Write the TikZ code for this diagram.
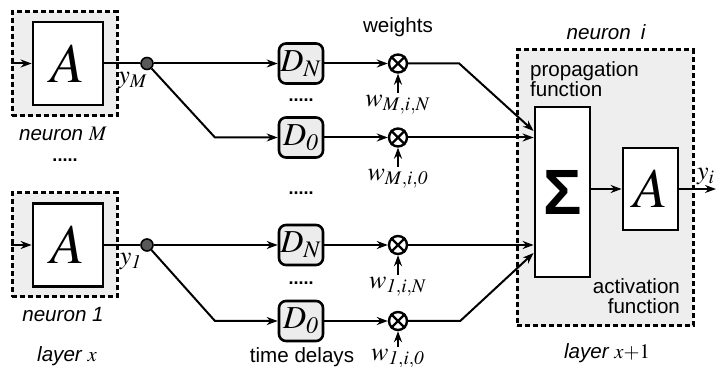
\documentclass[tikz,border=0pt]{standalone}
\usepackage{mathptmx}
\usepackage[no-math]{fontspec}
\setmainfont{Liberation Sans}
\usetikzlibrary{arrows.meta,calc}

\begin{document}
\begin{tikzpicture}[x=0.5pt,y=-0.5pt,
  lbl/.style={font=\fontsize{10.3}{10}\selectfont},
  ilbl/.style={font=\fontsize{10.3}{10}\selectfont\itshape},
  mlbl/.style={font=\fontsize{13}{14}\selectfont},
  layerbox/.style={draw,line width=1.5pt,dash pattern=on 2.6pt off 1.4pt,fill=gray!13,inner sep=0pt},
  actbox/.style={draw,line width=1.4pt,fill=white,inner sep=0pt,minimum width=35pt,minimum height=41.5pt,font=\fontsize{28}{30}\selectfont},
  delay/.style={draw,line width=1.3pt,rounded corners=3.5pt,fill=gray!15,minimum width=22pt,minimum height=20pt,inner sep=0pt,font=\fontsize{16}{18}\selectfont},
  mult/.style={draw,circle,line width=1.2pt,fill=white,minimum size=9pt,inner sep=0pt},
  knot/.style={circle,draw,line width=0.8pt,fill=black!65,minimum size=6pt,inner sep=0pt},
  con/.style={line width=1pt},
  arr/.style={con,-{Stealth[length=5.5pt,width=4pt]}},
  dots/.style={font=\fontsize{9}{9}\selectfont\bfseries}
]
\useasboundingbox (0,0) rectangle (717,367);

% layer x: neuron M and neuron 1
\node[layerbox,minimum width=52.5pt,minimum height=52pt] (neurM) at (64.5,64) {};
\node[actbox] (AM) at (68,63.5) {$A$};
\node[layerbox,minimum width=52.5pt,minimum height=52pt] (neur1) at (64.5,245) {};
\node[actbox] (A1) at (68,245) {$A$};
\draw[arr] (neurM.west |- AM.west) -- (AM.west);
\draw[arr] (neur1.west |- A1.west) -- (A1.west);
\node[mlbl] (yM) at (133,81) {$y_M$};
\node[mlbl] (y1) at (131,262) {$y_{\mathit{1}}$};
\node[ilbl] (capM) at (63,134) {neuron $M$};
\node[dots] (dotsL) at (65,160) {.....};
\node[ilbl] (cap1) at (63,315) {neuron 1};
\node[ilbl] (layX) at (67,356) {layer $x$};

% branch points
\node[knot] (dotM) at (147,63.5) {};
\node[knot] (dot1) at (147,245) {};
\draw[con] (AM.east) -- (dotM);
\draw[con] (A1.east) -- (dot1);

% time delays
\node[delay] (DMN) at (301,63.5) {$D_N$};
\node[delay] (DM0) at (301,137.5) {$D_{\mathit{0}}$};
\node[delay] (D1N) at (301,245) {$D_N$};
\node[delay] (D10) at (301,321) {$D_{\mathit{0}}$};
\node[dots] (dotsA) at (301,100) {.....};
\node[dots] (dotsB) at (301,193) {.....};
\node[dots] (dotsC) at (301,283) {.....};
\node[lbl] (tdel) at (302,357) {time delays};
\draw[arr] (dotM) -- (DMN);
\draw[arr] (dotM) -- ++(68,74) -- (DM0.west);
\draw[arr] (dot1) -- (D1N);
\draw[arr] (dot1) -- ++(68,76) -- (D10.west);

% weights
\node[lbl] (wts) at (398,27) {weights};
\node[mult] (mMN) at (398,63.5) {};
\node[mult] (mM0) at (398,137.5) {};
\node[mult] (m1N) at (398,245) {};
\node[mult] (m10) at (398,321) {};
\foreach \m in {mMN,mM0,m1N,m10}
  \draw[line width=1.2pt] (\m.north east) -- (\m.south west) (\m.north west) -- (\m.south east);
\node[mlbl,anchor=north,inner sep=1pt] (wMN) at (398,93) {$w_{M,i,N}$};
\node[mlbl,anchor=north,inner sep=1pt] (wM0) at (398,167) {$w_{M,i,\mathit{0}}$};
\node[mlbl,anchor=north,inner sep=1pt] (w1N) at (398,275) {$w_{\mathit{1},i,N}$};
\node[mlbl,anchor=north,inner sep=1pt] (w10) at (398,347) {$w_{\mathit{1},i,\mathit{0}}$};
\draw[arr] (DMN) -- (mMN);
\draw[arr] (DM0) -- (mM0);
\draw[arr] (D1N) -- (m1N);
\draw[arr] (D10) -- (m10);
\draw[arr] (wMN.north) -- (mMN.south);
\draw[arr] (wM0.north) -- (mM0.south);
\draw[arr] (w1N.north) -- (m1N.south);
\draw[arr] (w10.north) -- (m10.south);

% layer x+1: neuron i
\node[layerbox,minimum width=88pt,minimum height=138pt] (neurI) at (605,188) {};
\node[actbox,minimum width=27.5pt,minimum height=85pt,font=\fontsize{32}{32}\selectfont\bfseries] (Sig) at (562.5,192) {Σ};
\node[actbox,minimum width=27.5pt,minimum height=41pt] (AI) at (650.5,189) {$A$};
\node[ilbl] (capI) at (606,32) {neuron\hspace{5pt}i};
\node[lbl,align=left,anchor=north west] (prop) at (523,55) {propagation\\function};
\node[lbl,align=right,anchor=south east] (actf) at (687,321) {activation\\function};
\node[ilbl] (layX1) at (607,353) {layer $x{+}1$};
\node[mlbl] (yI) at (706,177) {$y_i$};
\coordinate (yout) at (716,189);

\draw[arr] (mMN.east) -- ++(51,0) -- ($(Sig.north west)!0.147!(Sig.south west)$);
\draw[arr] (mM0.east) -- (mM0.east -| Sig.west);
\draw[arr] (m1N.east) -- (m1N.east -| Sig.west);
\draw[arr] (m10.east) -- ++(52,0) -- ($(Sig.north west)!0.853!(Sig.south west)$);
\draw[arr] (Sig.east |- AI.west) -- (AI.west);
\draw[arr] (AI.east) -- (yout);
\end{tikzpicture}
\end{document}
